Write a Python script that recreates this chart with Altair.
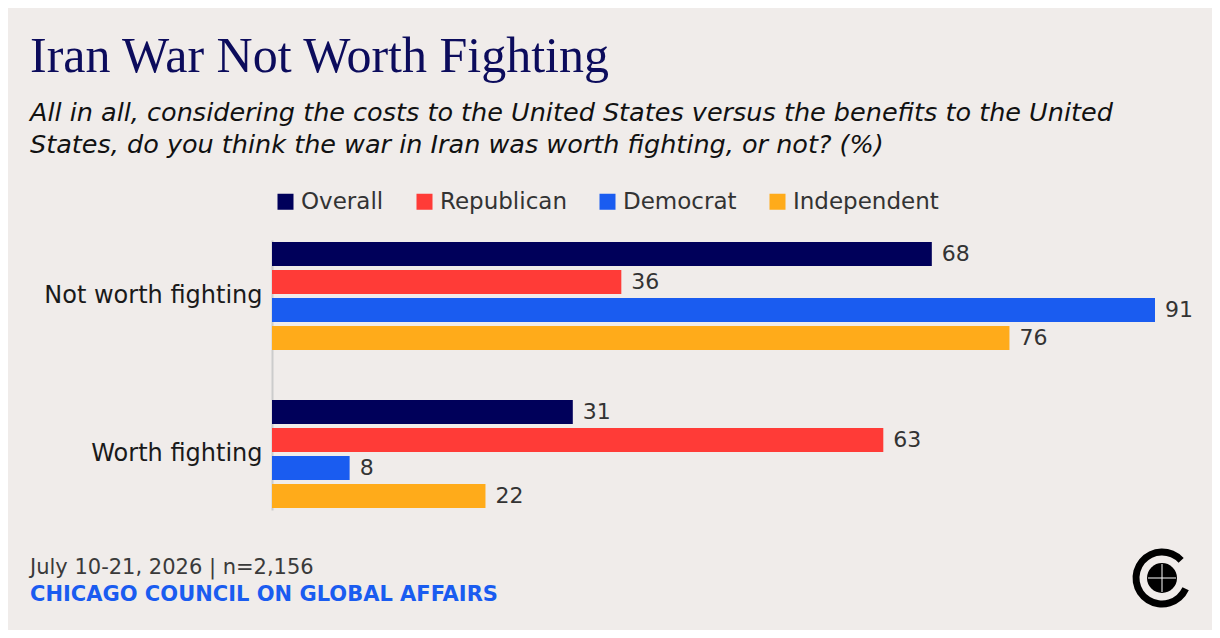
import altair as alt
import pandas as pd

questions = ["Not worth fighting", "Worth fighting"]
groups = ["Overall", "Republican", "Democrat", "Independent"]
overall = [68, 31]
republican = [36, 63]
democrat = [91, 8]
independent = [76, 22]
colors = ["#00005a", "#ff3b37", "#1a5cf0", "#ffab1a"]

title_text = "Iran War Not Worth Fighting"
subtitle_lines = [
    "All in all, considering the costs to the United States versus the benefits to the United",
    "States, do you think the war in Iran was worth fighting, or not? (%)",
]
footer_date = "July 10-21, 2026 | n=2,156"
footer_org = "CHICAGO COUNCIL ON GLOBAL AFFAIRS"

series = {"Overall": overall, "Republican": republican, "Democrat": democrat, "Independent": independent}
rows = []
for g in groups:
    for q, v in zip(questions, series[g]):
        rows.append({"question": q, "group": g, "value": v})
df = pd.DataFrame(rows)

SANS = "DejaVu Sans"

base = alt.Chart(df).encode(
    y=alt.Y(
        "question:N",
        sort=questions,
        scale=alt.Scale(paddingInner=0.291, paddingOuter=0),
        axis=alt.Axis(
            title=None, domainColor="#cccccc", domainWidth=2, ticks=False,
            labelFontSize=24, labelFont=SANS, labelColor="#1a1a1a", labelPadding=10,
            labelLimit=400, grid=False,
        ),
    ),
    yOffset=alt.YOffset("group:N", sort=groups,
                        scale=alt.Scale(paddingInner=0.143, paddingOuter=0.0714)),
    x=alt.X("value:Q", scale=alt.Scale(domain=[0, 91], nice=False), axis=None),
)

bars = base.mark_bar().encode(
    color=alt.Color(
        "group:N", sort=groups,
        scale=alt.Scale(domain=groups, range=colors),
        legend=alt.Legend(
            title=None, orient="none", legendX=2, legendY=-50, direction="horizontal",
            symbolType="square", symbolSize=256, symbolStrokeWidth=0,
            labelFontSize=23, labelFont=SANS, labelColor="#333333",
            labelOffset=4, columnPadding=29, labelLimit=400,
        ),
    )
)

labels = base.mark_text(align="left", baseline="middle", dx=10, fontSize=22,
                        font=SANS, color="#333333").encode(text="value:Q")

foot1 = alt.Chart(pd.DataFrame({"t": [footer_date]})).mark_text(
    align="left", baseline="alphabetic", fontSize=21, font=SANS, fontWeight="normal",
    color="#3a3a3a"
).encode(text="t:N", x=alt.value(-242), y=alt.value(334))

foot2 = alt.Chart(pd.DataFrame({"t": [footer_org]})).mark_text(
    align="left", baseline="alphabetic", fontSize=21, font=SANS, fontWeight="bold",
    color="#1a5cf0"
).encode(text="t:N", x=alt.value(-242), y=alt.value(361))

logo_df = pd.DataFrame({"k": ["logo"]})
logo_c = alt.Chart(logo_df).mark_arc(
    theta=2.0, theta2=7.11, radius=29.5, radius2=22.5, color="#000000"
).encode(x=alt.value(890), y=alt.value(338))
logo_globe = alt.Chart(logo_df).mark_arc(
    theta=0, theta2=6.2832, radius=15, color="#000000"
).encode(x=alt.value(890), y=alt.value(338))
logo_eq = alt.Chart(logo_df).mark_rule(color="#ffffff", strokeWidth=1).encode(
    x=alt.value(876), x2=alt.value(904), y=alt.value(338))
logo_mer = alt.Chart(logo_df).mark_rule(color="#ffffff", strokeWidth=1).encode(
    x=alt.value(890), y=alt.value(324), y2=alt.value(352))

chart = alt.layer(bars, labels, foot1, foot2, logo_c, logo_globe, logo_eq, logo_mer).properties(
    width=883,
    height=270,
    padding={"left": 264, "top": 232, "right": 57, "bottom": 120},
    autosize=alt.AutoSizeParams(type="none"),
    background="#f0ecea",
    title=alt.TitleParams(
        text=title_text, subtitle=subtitle_lines, anchor="start", frame="group",
        dx=-242, font="Liberation Serif", fontSize=50, fontWeight="normal",
        color="#0c0c5c", subtitleFont=SANS, subtitleFontSize=25.5,
        subtitleFontStyle="italic", subtitleColor="#111111", subtitleLineHeight=32,
        subtitlePadding=19, offset=32,
    ),
).configure_view(stroke=None)

chart.save("out.html", embed_options={"renderer": "svg", "actions": False})
